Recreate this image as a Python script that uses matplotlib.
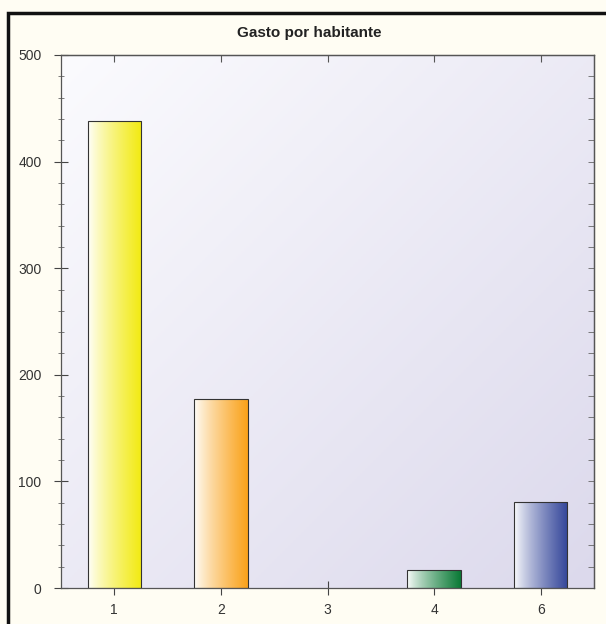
import numpy as np
import matplotlib
matplotlib.use('Agg')
import matplotlib.pyplot as plt
from matplotlib.colors import LinearSegmentedColormap
from matplotlib.patches import Rectangle
from matplotlib.ticker import MultipleLocator

plt.rcParams['font.family'] = ['Liberation Sans', 'DejaVu Sans']

categories = ['1', '2', '3', '4', '6']
values = [438, 177, 0, 17, 81]
bar_colors = ['#f2ea10', '#faa21a', '#cccccc', '#0a7a36', '#34469a']

fig = plt.figure(figsize=(6.06, 6.24), dpi=100, facecolor='#fffdf3')
ax = fig.add_axes([61/606, 1 - 588/624, 533/606, 533/624])

# frame around the whole chart (left/top visible)
fig.patches.append(Rectangle((8/606, -0.1), 1.2, 1 - 13/624 + 0.1,
                             transform=fig.transFigure, fill=False,
                             edgecolor='#111111', linewidth=2.5))

x = np.arange(len(categories))
ax.set_xlim(-0.5, len(categories) - 0.5)
ax.set_ylim(0, 500)

# plot area gradient (white top-left to lavender bottom-right)
gx, gy = np.meshgrid(np.linspace(0, 1, 200), np.linspace(0, 1, 200))
g = (gx + gy) / 2
bg_cmap = LinearSegmentedColormap.from_list('bg', ['#fbfbfe', '#dcd9ec'])
ax.imshow(g, cmap=bg_cmap, extent=[0, 1, 0, 1], transform=ax.transAxes,
          aspect='auto', zorder=0, origin='upper')

bars = ax.bar(x, values, width=0.5, facecolor='none', edgecolor='#333333',
              linewidth=0.8, zorder=3)

ramp = np.linspace(0, 1, 256).reshape(1, -1) ** 0.8
for patch, val, col in zip(bars, values, bar_colors):
    if val <= 0:
        patch.set_edgecolor('none')
        continue
    cmap = LinearSegmentedColormap.from_list('b', ['#ffffff', col])
    x0 = patch.get_x()
    im = ax.imshow(ramp, cmap=cmap, extent=[x0, x0 + patch.get_width(), 0, val],
                   aspect='auto', zorder=2)
    im.set_clip_path(patch)

ax.set_xticks(x)
ax.set_xticklabels(categories)
ax.yaxis.set_major_locator(MultipleLocator(100))
ax.yaxis.set_minor_locator(MultipleLocator(20))
ax.tick_params(axis='both', which='major', direction='inout', length=10,
               width=0.8, color='#444444', labelsize=10, labelcolor='#333333')
ax.tick_params(axis='y', which='minor', direction='inout', length=5,
               width=0.6, color='#666666')
ax.tick_params(axis='x', pad=6)
ax.tick_params(axis='y', pad=9)

# inward ticks on the top and right sides
top = ax.secondary_xaxis('top')
top.set_xticks(x)
top.tick_params(direction='in', length=5, width=0.8, color='#555555',
                labeltop=False)
right = ax.secondary_yaxis('right')
right.yaxis.set_major_locator(MultipleLocator(100))
right.yaxis.set_minor_locator(MultipleLocator(20))
right.tick_params(which='both', direction='in', length=4, width=0.6,
                  color='#666666', labelright=False)

for a in (ax, top, right):
    for s in a.spines.values():
        s.set_color('#555555')
        s.set_linewidth(0.9)

fig.text(309/606, 1 - 33/624, 'Gasto por habitante', fontsize=11,
         fontweight='bold', color='#222222', ha='center', va='center')

fig.savefig('out.png', dpi=100, facecolor=fig.get_facecolor())
